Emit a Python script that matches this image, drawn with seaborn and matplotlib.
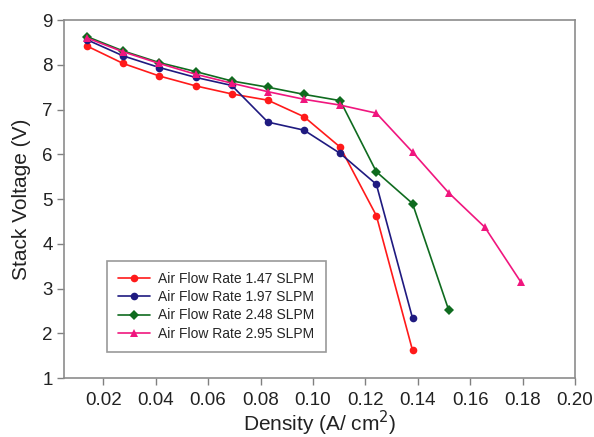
import numpy as np
import pandas as pd
import matplotlib
matplotlib.use("Agg")
import matplotlib.pyplot as plt
import seaborn as sns

x_red = [0.0138, 0.0276, 0.0414, 0.0552, 0.069, 0.0828, 0.0966, 0.1104, 0.1242, 0.138]
y_red = [8.42, 8.03, 7.75, 7.53, 7.35, 7.21, 6.84, 6.16, 4.63, 1.62]
x_blue = [0.0138, 0.0276, 0.0414, 0.0552, 0.069, 0.0828, 0.0966, 0.1104, 0.1242, 0.138]
y_blue = [8.56, 8.20, 7.94, 7.72, 7.54, 6.72, 6.54, 6.02, 5.33, 2.34]
x_green = [0.0138, 0.0276, 0.0414, 0.0552, 0.069, 0.0828, 0.0966, 0.1104, 0.1242, 0.138, 0.1518]
y_green = [8.63, 8.31, 8.05, 7.85, 7.64, 7.50, 7.34, 7.20, 5.61, 4.90, 2.52]
x_pink = [0.0138, 0.0276, 0.0414, 0.0552, 0.069, 0.0828, 0.0966, 0.1104, 0.1242, 0.138, 0.1518, 0.1656, 0.1794]
y_pink = [8.60, 8.29, 8.03, 7.79, 7.59, 7.40, 7.23, 7.10, 6.92, 6.05, 5.14, 4.37, 3.14]

labels = ["Air Flow Rate 1.47 SLPM", "Air Flow Rate 1.97 SLPM",
          "Air Flow Rate 2.48 SLPM", "Air Flow Rate 2.95 SLPM"]
colors = ["#ff1a1a", "#1f1a80", "#0f6b1f", "#f0167e"]
markers = ["o", "o", "D", "^"]

frames = []
for lab, xs, ys in zip(labels, [x_red, x_blue, x_green, x_pink], [y_red, y_blue, y_green, y_pink]):
    frames.append(pd.DataFrame({"x": xs, "y": ys, "series": lab}))
df = pd.concat(frames, ignore_index=True)

sns.set_style("white")
plt.rcParams['font.family'] = ['Liberation Sans', 'DejaVu Sans']

fig = plt.figure(figsize=(5.94, 4.37), dpi=100)
ax = fig.add_axes([0.1077, 0.135, 0.8603, 0.819])

sns.lineplot(data=df, x="x", y="y", hue="series", style="series",
             palette=dict(zip(labels, colors)), markers=dict(zip(labels, markers)),
             dashes=False, sort=False, ax=ax, linewidth=1.2, markersize=5.5,
             markeredgewidth=0)

ax.set_xlim(0.005, 0.2)
ax.set_ylim(1, 9)
ax.set_xticks([0.02, 0.04, 0.06, 0.08, 0.10, 0.12, 0.14, 0.16, 0.18, 0.20])
ax.set_xticklabels(["0.02", "0.04", "0.06", "0.08", "0.10", "0.12", "0.14", "0.16", "0.18", "0.20"])
ax.set_yticks(range(1, 10))
ax.tick_params(axis='both', which='both', direction='out', length=5, width=1,
               color='#808080', labelsize=13.5, labelcolor='#222222', pad=3,
               bottom=True, left=True)
ax.tick_params(axis='x', pad=5)
for s in ax.spines.values():
    s.set_color('#8c8c8c')
    s.set_linewidth(1.2)

ax.set_xlabel("Density (A/ cm$^2$)", fontsize=15, color='#222222', labelpad=0)
ax.set_ylabel("Stack Voltage (V)", fontsize=15, color='#222222', labelpad=8)

leg = ax.legend(loc='upper left', bbox_to_anchor=(0.084, 0.327), fontsize=10,
                frameon=True, fancybox=False, edgecolor='#808080',
                borderpad=0.8, handlelength=2.3, labelspacing=0.3, handletextpad=0.6,
                borderaxespad=0)
leg.get_frame().set_linewidth(1.2)

fig.savefig("out.png", dpi=100)
